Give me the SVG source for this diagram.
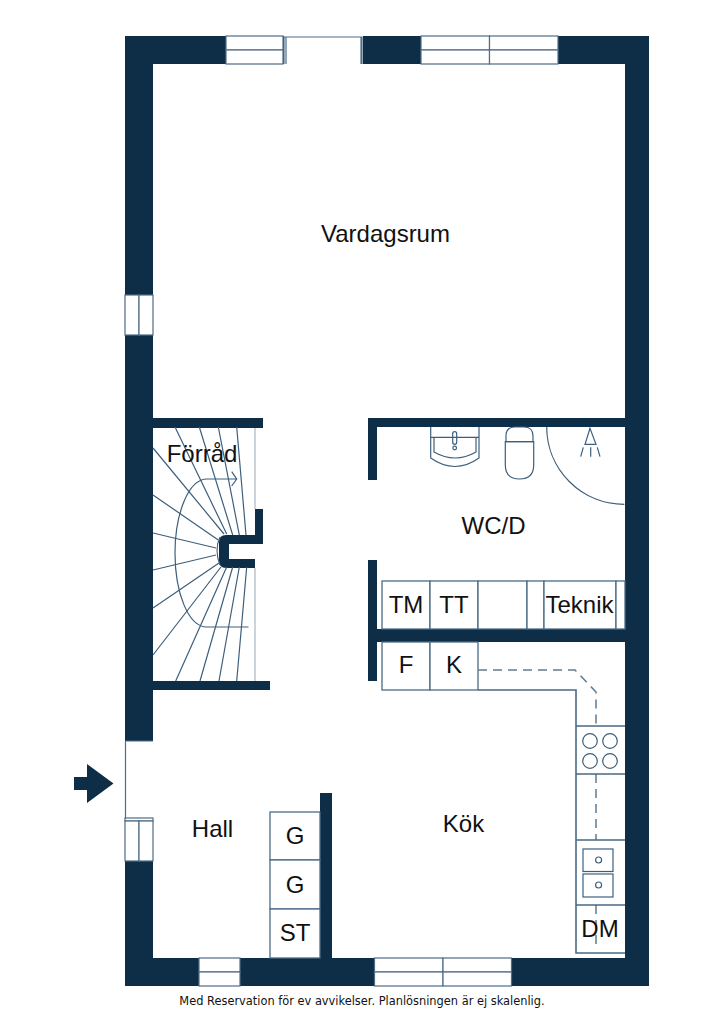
<svg xmlns="http://www.w3.org/2000/svg" width="724" height="1024" viewBox="0 0 724 1024">
<style>
.w{fill:#0e2e48}
.l{fill:none;stroke:#3d5f7c;stroke-width:1.2}
.f{fill:#fff;stroke:#4f6d87;stroke-width:1.2}
.c{fill:#fff;stroke:#4a6a85;stroke-width:1.3}
.d{fill:none;stroke:#5f7b93;stroke-width:1.5;stroke-dasharray:9 6}
.t{font-family:"Liberation Sans",Arial,sans-serif;font-size:24px;fill:#111;text-anchor:middle}
.n{font-family:"DejaVu Sans",Verdana,sans-serif;font-size:11.4px;fill:#111;text-anchor:middle}
</style>
<rect width="724" height="1024" fill="#fff"/>
<g id="walls">
<path class="w" fill-rule="evenodd" d="M125 36H649V986H125ZM153 64V958H625V64Z"/>
<rect class="w" x="153" y="418" width="110" height="10"/>
<rect class="w" x="153" y="681" width="117" height="9"/>
<rect class="w" x="255" y="509" width="8" height="35"/>
<path class="w" d="M263 535V544H229V559H255V568H226Q219 568 219 561V542Q219 535 226 535Z"/>
<rect class="w" x="368" y="418" width="257" height="9"/>
<rect class="w" x="368" y="418" width="9" height="62"/>
<rect class="w" x="368" y="560" width="9" height="121"/>
<rect class="w" x="368" y="629" width="257" height="13"/>
<rect class="w" x="320" y="793" width="12" height="165"/>
</g>
<g id="windows">
<rect class="f" x="226" y="36" width="57" height="14"/><rect class="f" x="226" y="50" width="57" height="14"/>
<rect fill="#fff" x="284" y="36" width="79" height="28"/>
<path class="f" d="M284 64V37H362V64M286 64V37M361 64V37"/>
<rect class="f" x="421" y="36" width="68.500" height="14"/><rect class="f" x="489.500" y="36" width="68.500" height="14"/>
<rect class="f" x="421" y="50" width="68.500" height="14"/><rect class="f" x="489.500" y="50" width="68.500" height="14"/>
<rect class="f" x="125" y="295" width="14" height="40"/><rect class="f" x="139" y="295" width="14" height="40"/>
<rect fill="#fff" x="125" y="741" width="28" height="78"/>
<path class="f" d="M125.500 741V819M125 741H153"/>
<rect class="f" x="125" y="818" width="28" height="3"/>
<rect class="f" x="125" y="821" width="14" height="40"/><rect class="f" x="139" y="821" width="14" height="40"/>
<rect class="f" x="199" y="958" width="41" height="14"/><rect class="f" x="199" y="972" width="41" height="14"/>
<rect class="f" x="374.500" y="958" width="68.500" height="14"/><rect class="f" x="443" y="958" width="68.500" height="14"/>
<rect class="f" x="374.500" y="972" width="68.500" height="14"/><rect class="f" x="443" y="972" width="68.500" height="14"/>
</g>
<g id="stairs">
<path d="M255 428V509M255 568V681" fill="none" stroke="#a9b7c3" stroke-width="1.2"/>
<path class="l" d="M175 427L226.700 534M199.300 427L232.700 535M218.300 427L239.300 535M236.700 427L246 535M153 448L224 534M153 495L218.300 540M153 533L216 548M153 570L216 555M153 608L219 563M153 655L221 567M175.700 681L226.700 567M200 681L232.700 567M219 681L239.300 567M236.700 681L246.700 567"/>
<path class="l" d="M220 537Q214 550 220 565"/>
<path class="l" d="M236.700 479H207C188 479 175 515 175 553C175 592 188 627 207 627H248.500M231.700 471.700L236.700 479L231.700 486"/>
</g>
<g id="wc-fixtures">
<path class="l" d="M430.700 427V458Q455 475 479 458V427M430.700 437.300H479M434 437.300V452Q455 464 476 452V437.300"/>
<rect class="l" x="452.700" y="431.700" width="4" height="12.600" rx="2"/>
<circle class="l" cx="454.700" cy="448" r="1.800"/>
<path class="l" d="M506 441.700V436Q506 427 515 427H524Q533 427 533 436V441.700Z"/>
<path class="l" d="M505.300 441.700H533.700V465Q533.700 479 519.500 479Q505.300 479 505.300 465Z"/>
<path class="l" d="M546.700 427A77.500 77.500 0 0 0 624.300 504.300"/>
<path class="l" d="M590 428.300L585 444.300H596ZM583.300 447.300L580.700 456.700M590.700 447.300V456.700M597.300 447.300L600 456.700"/>
</g>
<g id="cabinets">
<rect class="c" x="382" y="581" width="48" height="48"/>
<rect class="c" x="430" y="581" width="48" height="48"/>
<rect class="c" x="478" y="581" width="49" height="48"/>
<rect class="c" x="527" y="581" width="17" height="48"/>
<rect class="c" x="544" y="581" width="72" height="48"/>
<rect class="c" x="616" y="581" width="9" height="48"/>
<rect class="c" x="382" y="642" width="48" height="48"/>
<rect class="c" x="430" y="642" width="48" height="48"/>
<path class="d" d="M478 670H575L596 692V726M596 774V840M596 905V945"/>
<path class="c" style="fill:none;stroke-width:1.600" d="M478 690H576V953H625M576 726H625M576 774H625M576 840H625M576 905H625"/>
<g class="l"><circle cx="590" cy="741" r="7.300"/><circle cx="610" cy="741" r="7.300"/><circle cx="590" cy="761" r="7.300"/><circle cx="610" cy="761" r="7.300"/>
<rect x="583" y="849" width="30" height="22.500"/><rect x="583" y="874" width="30" height="23"/>
<circle cx="598.600" cy="860" r="3"/><circle cx="598.600" cy="885" r="3"/></g>
<rect class="c" x="270" y="812" width="50" height="48"/>
<rect class="c" x="270" y="860" width="50" height="49"/>
<rect class="c" x="270" y="909" width="50" height="49"/>
</g>
<g id="entry-arrow"><path class="w" d="M74 777H87V764L113.500 783.500L87 803V790H74Z"/></g>
<g id="labels">
<text class="t" x="385.500" y="242">Vardagsrum</text>
<text class="t" x="202" y="462">Förråd</text>
<text class="t" x="493.500" y="534">WC/D</text>
<text class="t" x="406" y="613">TM</text>
<text class="t" x="454" y="613">TT</text>
<text class="t" x="579.500" y="613">Teknik</text>
<text class="t" x="406" y="673">F</text>
<text class="t" x="454" y="673">K</text>
<text class="t" x="212.500" y="837">Hall</text>
<text class="t" x="463.500" y="832">Kök</text>
<text class="t" x="295" y="844">G</text>
<text class="t" x="295" y="893">G</text>
<text class="t" x="295" y="941">ST</text>
<text class="t" x="600" y="937">DM</text>
<text class="n" x="362" y="1005">Med Reservation för ev avvikelser. Planlösningen är ej skalenlig.</text>
</g>
</svg>
